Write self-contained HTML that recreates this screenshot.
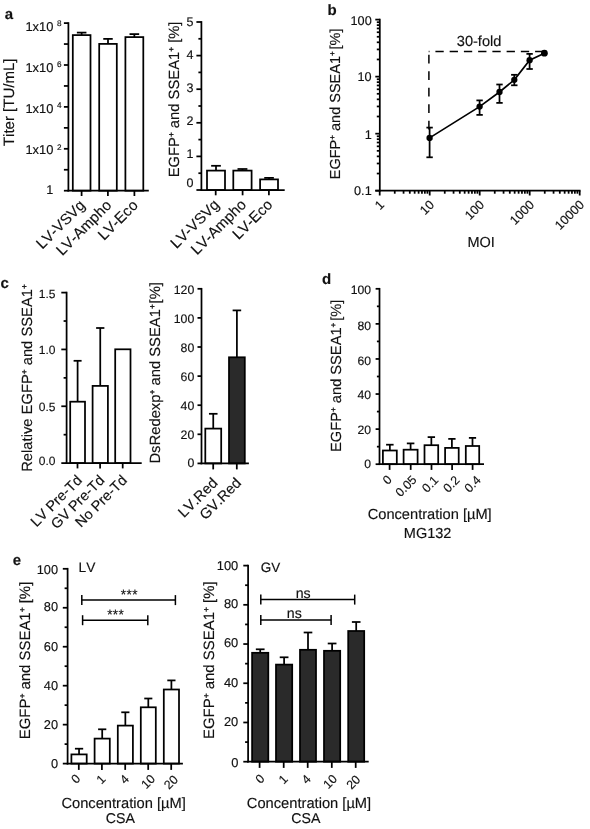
<!DOCTYPE html>
<html><head><meta charset="utf-8"><title>Figure</title>
<style>
html,body{margin:0;padding:0;background:#fff;}
svg{display:block;font-family:"Liberation Sans",sans-serif;font-kerning:none;filter:grayscale(1);}
svg text{fill:#111;stroke:#111;stroke-width:0.15px;text-rendering:geometricPrecision;}
</style></head><body>
<svg width="590" height="829" viewBox="0 0 590 829">
<rect x="0" y="0" width="590" height="829" fill="#fff" stroke="none"/>
<text x="4.80" y="19.40" font-size="15.00" text-anchor="start" font-weight="bold" >a</text>
<line x1="68.40" y1="22.23" x2="68.40" y2="191.57" stroke="#000" stroke-width="1.75" />
<line x1="63.90" y1="23.10" x2="68.40" y2="23.10" stroke="#000" stroke-width="1.75" />
<line x1="63.90" y1="44.05" x2="68.40" y2="44.05" stroke="#000" stroke-width="1.75" />
<line x1="63.90" y1="65.00" x2="68.40" y2="65.00" stroke="#000" stroke-width="1.75" />
<line x1="63.90" y1="85.95" x2="68.40" y2="85.95" stroke="#000" stroke-width="1.75" />
<line x1="63.90" y1="106.90" x2="68.40" y2="106.90" stroke="#000" stroke-width="1.75" />
<line x1="63.90" y1="127.85" x2="68.40" y2="127.85" stroke="#000" stroke-width="1.75" />
<line x1="63.90" y1="148.80" x2="68.40" y2="148.80" stroke="#000" stroke-width="1.75" />
<line x1="63.90" y1="169.75" x2="68.40" y2="169.75" stroke="#000" stroke-width="1.75" />
<line x1="63.90" y1="190.70" x2="68.40" y2="190.70" stroke="#000" stroke-width="1.75" />
<text x="53.40" y="31.10" font-size="12.90" text-anchor="end" >1x10</text>
<text x="56.90" y="25.80" font-size="8.20" text-anchor="start" >8</text>
<text x="53.40" y="72.17" font-size="12.90" text-anchor="end" >1x10</text>
<text x="56.90" y="67.10" font-size="8.20" text-anchor="start" >6</text>
<text x="53.40" y="113.24" font-size="12.90" text-anchor="end" >1x10</text>
<text x="56.90" y="108.40" font-size="8.20" text-anchor="start" >4</text>
<text x="53.40" y="154.31" font-size="12.90" text-anchor="end" >1x10</text>
<text x="56.90" y="149.70" font-size="8.20" text-anchor="start" >2</text>
<text x="53.20" y="193.85" font-size="12.70" text-anchor="end" >1</text>
<text transform="translate(14.20,102.30) rotate(-90)" font-size="15.00" text-anchor="middle" >Titer [TU/mL]</text>
<line x1="81.65" y1="32.60" x2="81.65" y2="35.10" stroke="#000" stroke-width="1.75" />
<line x1="76.87" y1="32.60" x2="86.43" y2="32.60" stroke="#000" stroke-width="1.75" />
<rect x="72.80" y="35.10" width="17.70" height="155.60" fill="#fff" stroke="#000" stroke-width="1.75"/>
<line x1="108.00" y1="38.90" x2="108.00" y2="43.90" stroke="#000" stroke-width="1.75" />
<line x1="103.25" y1="38.90" x2="112.75" y2="38.90" stroke="#000" stroke-width="1.75" />
<rect x="99.20" y="43.90" width="17.60" height="146.80" fill="#fff" stroke="#000" stroke-width="1.75"/>
<line x1="134.35" y1="34.10" x2="134.35" y2="37.10" stroke="#000" stroke-width="1.75" />
<line x1="129.52" y1="34.10" x2="139.18" y2="34.10" stroke="#000" stroke-width="1.75" />
<rect x="125.40" y="37.10" width="17.90" height="153.60" fill="#fff" stroke="#000" stroke-width="1.75"/>
<line x1="67.53" y1="190.70" x2="148.80" y2="190.70" stroke="#000" stroke-width="1.75" />
<line x1="81.60" y1="190.70" x2="81.60" y2="196.00" stroke="#000" stroke-width="1.75" />
<text transform="translate(86.00,206.20) rotate(-45)" font-size="15.00" text-anchor="end" >LV-VSVg</text>
<line x1="107.90" y1="190.70" x2="107.90" y2="196.00" stroke="#000" stroke-width="1.75" />
<text transform="translate(112.30,206.20) rotate(-45)" font-size="15.00" text-anchor="end" >LV-Ampho</text>
<line x1="134.40" y1="190.70" x2="134.40" y2="196.00" stroke="#000" stroke-width="1.75" />
<text transform="translate(138.80,206.20) rotate(-45)" font-size="15.00" text-anchor="end" >LV-Eco</text>
<line x1="201.40" y1="21.12" x2="201.40" y2="190.88" stroke="#000" stroke-width="1.75" />
<line x1="196.40" y1="22.00" x2="201.40" y2="22.00" stroke="#000" stroke-width="1.75" />
<line x1="196.40" y1="55.60" x2="201.40" y2="55.60" stroke="#000" stroke-width="1.75" />
<line x1="196.40" y1="89.20" x2="201.40" y2="89.20" stroke="#000" stroke-width="1.75" />
<line x1="196.40" y1="122.80" x2="201.40" y2="122.80" stroke="#000" stroke-width="1.75" />
<line x1="196.40" y1="156.40" x2="201.40" y2="156.40" stroke="#000" stroke-width="1.75" />
<line x1="196.40" y1="190.00" x2="201.40" y2="190.00" stroke="#000" stroke-width="1.75" />
<line x1="198.40" y1="38.80" x2="201.40" y2="38.80" stroke="#000" stroke-width="1.75" />
<line x1="198.40" y1="72.40" x2="201.40" y2="72.40" stroke="#000" stroke-width="1.75" />
<line x1="198.40" y1="106.00" x2="201.40" y2="106.00" stroke="#000" stroke-width="1.75" />
<line x1="198.40" y1="139.60" x2="201.40" y2="139.60" stroke="#000" stroke-width="1.75" />
<line x1="198.40" y1="173.20" x2="201.40" y2="173.20" stroke="#000" stroke-width="1.75" />
<text x="193.50" y="26.38" font-size="12.50" text-anchor="end" >5</text>
<text x="193.50" y="59.18" font-size="12.50" text-anchor="end" >4</text>
<text x="193.50" y="92.38" font-size="12.50" text-anchor="end" >3</text>
<text x="193.50" y="125.07" font-size="12.50" text-anchor="end" >2</text>
<text x="193.50" y="157.57" font-size="12.50" text-anchor="end" >1</text>
<text x="193.50" y="187.38" font-size="12.50" text-anchor="end" >0</text>
<text transform="translate(178.50,99.40) rotate(-90)" font-size="14.78" text-anchor="middle" >EGFP<tspan font-size="8.28" dy="-4.58" stroke-width="0.35">+</tspan><tspan dy="4.58"> and SSEA1<tspan font-size="8.28" dy="-4.58" stroke-width="0.35">+</tspan><tspan dy="4.58"> [%]</tspan></tspan></text>
<line x1="216.00" y1="165.80" x2="216.00" y2="170.60" stroke="#000" stroke-width="1.75" />
<line x1="211.14" y1="165.80" x2="220.86" y2="165.80" stroke="#000" stroke-width="1.75" />
<rect x="207.00" y="170.60" width="18.00" height="19.40" fill="#fff" stroke="#000" stroke-width="1.75"/>
<line x1="242.45" y1="169.00" x2="242.45" y2="170.60" stroke="#000" stroke-width="1.75" />
<line x1="237.51" y1="169.00" x2="247.39" y2="169.00" stroke="#000" stroke-width="1.75" />
<rect x="233.30" y="170.60" width="18.30" height="19.40" fill="#fff" stroke="#000" stroke-width="1.75"/>
<line x1="269.05" y1="177.90" x2="269.05" y2="179.40" stroke="#000" stroke-width="1.75" />
<line x1="264.22" y1="177.90" x2="273.88" y2="177.90" stroke="#000" stroke-width="1.75" />
<rect x="260.10" y="179.40" width="17.90" height="10.60" fill="#fff" stroke="#000" stroke-width="1.75"/>
<line x1="200.53" y1="190.00" x2="284.70" y2="190.00" stroke="#000" stroke-width="1.75" />
<line x1="215.70" y1="190.00" x2="215.70" y2="195.30" stroke="#000" stroke-width="1.75" />
<text transform="translate(220.20,205.50) rotate(-45)" font-size="15.00" text-anchor="end" >LV-VSVg</text>
<line x1="242.60" y1="190.00" x2="242.60" y2="195.30" stroke="#000" stroke-width="1.75" />
<text transform="translate(247.10,205.50) rotate(-45)" font-size="15.00" text-anchor="end" >LV-Ampho</text>
<line x1="268.90" y1="190.00" x2="268.90" y2="195.30" stroke="#000" stroke-width="1.75" />
<text transform="translate(273.40,205.50) rotate(-45)" font-size="15.00" text-anchor="end" >LV-Eco</text>
<text x="327.60" y="15.00" font-size="15.00" text-anchor="start" font-weight="bold" >b</text>
<line x1="379.80" y1="18.73" x2="379.80" y2="191.57" stroke="#000" stroke-width="1.75" />
<line x1="375.30" y1="19.60" x2="379.80" y2="19.60" stroke="#000" stroke-width="1.75" />
<line x1="375.30" y1="76.63" x2="379.80" y2="76.63" stroke="#000" stroke-width="1.75" />
<line x1="375.30" y1="133.67" x2="379.80" y2="133.67" stroke="#000" stroke-width="1.75" />
<line x1="375.30" y1="190.70" x2="379.80" y2="190.70" stroke="#000" stroke-width="1.75" />
<line x1="376.80" y1="173.53" x2="379.80" y2="173.53" stroke="#000" stroke-width="1.75" />
<line x1="376.80" y1="163.49" x2="379.80" y2="163.49" stroke="#000" stroke-width="1.75" />
<line x1="376.80" y1="156.36" x2="379.80" y2="156.36" stroke="#000" stroke-width="1.75" />
<line x1="376.80" y1="150.84" x2="379.80" y2="150.84" stroke="#000" stroke-width="1.75" />
<line x1="376.80" y1="146.32" x2="379.80" y2="146.32" stroke="#000" stroke-width="1.75" />
<line x1="376.80" y1="142.50" x2="379.80" y2="142.50" stroke="#000" stroke-width="1.75" />
<line x1="376.80" y1="139.19" x2="379.80" y2="139.19" stroke="#000" stroke-width="1.75" />
<line x1="376.80" y1="136.28" x2="379.80" y2="136.28" stroke="#000" stroke-width="1.75" />
<line x1="376.80" y1="116.50" x2="379.80" y2="116.50" stroke="#000" stroke-width="1.75" />
<line x1="376.80" y1="106.45" x2="379.80" y2="106.45" stroke="#000" stroke-width="1.75" />
<line x1="376.80" y1="99.33" x2="379.80" y2="99.33" stroke="#000" stroke-width="1.75" />
<line x1="376.80" y1="93.80" x2="379.80" y2="93.80" stroke="#000" stroke-width="1.75" />
<line x1="376.80" y1="89.29" x2="379.80" y2="89.29" stroke="#000" stroke-width="1.75" />
<line x1="376.80" y1="85.47" x2="379.80" y2="85.47" stroke="#000" stroke-width="1.75" />
<line x1="376.80" y1="82.16" x2="379.80" y2="82.16" stroke="#000" stroke-width="1.75" />
<line x1="376.80" y1="79.24" x2="379.80" y2="79.24" stroke="#000" stroke-width="1.75" />
<line x1="376.80" y1="59.46" x2="379.80" y2="59.46" stroke="#000" stroke-width="1.75" />
<line x1="376.80" y1="49.42" x2="379.80" y2="49.42" stroke="#000" stroke-width="1.75" />
<line x1="376.80" y1="42.30" x2="379.80" y2="42.30" stroke="#000" stroke-width="1.75" />
<line x1="376.80" y1="36.77" x2="379.80" y2="36.77" stroke="#000" stroke-width="1.75" />
<line x1="376.80" y1="32.25" x2="379.80" y2="32.25" stroke="#000" stroke-width="1.75" />
<line x1="376.80" y1="28.43" x2="379.80" y2="28.43" stroke="#000" stroke-width="1.75" />
<line x1="376.80" y1="25.13" x2="379.80" y2="25.13" stroke="#000" stroke-width="1.75" />
<line x1="376.80" y1="22.21" x2="379.80" y2="22.21" stroke="#000" stroke-width="1.75" />
<text x="371.70" y="24.75" font-size="12.70" text-anchor="end" >100</text>
<text x="371.70" y="81.05" font-size="12.70" text-anchor="end" >10</text>
<text x="371.70" y="138.75" font-size="12.70" text-anchor="end" >1</text>
<text x="371.70" y="195.25" font-size="12.70" text-anchor="end" >0.1</text>
<text transform="translate(339.60,103.90) rotate(-90)" font-size="14.50" text-anchor="middle" >EGFP<tspan font-size="8.12" dy="-4.50" stroke-width="0.35">+</tspan><tspan dy="4.50"> and SSEA1<tspan font-size="8.12" dy="-4.50" stroke-width="0.35">+</tspan><tspan dy="4.50"><tspan dx="1.8">[%]</tspan></tspan></tspan></text>
<line x1="375.30" y1="190.70" x2="580.58" y2="190.70" stroke="#000" stroke-width="1.75" />
<line x1="379.70" y1="190.70" x2="379.70" y2="195.50" stroke="#000" stroke-width="1.75" />
<text transform="translate(385.00,205.60) rotate(-45)" font-size="12.70" text-anchor="end" >1</text>
<line x1="394.75" y1="190.70" x2="394.75" y2="193.70" stroke="#000" stroke-width="1.75" />
<line x1="403.56" y1="190.70" x2="403.56" y2="193.70" stroke="#000" stroke-width="1.75" />
<line x1="409.80" y1="190.70" x2="409.80" y2="193.70" stroke="#000" stroke-width="1.75" />
<line x1="414.65" y1="190.70" x2="414.65" y2="193.70" stroke="#000" stroke-width="1.75" />
<line x1="418.61" y1="190.70" x2="418.61" y2="193.70" stroke="#000" stroke-width="1.75" />
<line x1="421.95" y1="190.70" x2="421.95" y2="193.70" stroke="#000" stroke-width="1.75" />
<line x1="424.85" y1="190.70" x2="424.85" y2="193.70" stroke="#000" stroke-width="1.75" />
<line x1="427.41" y1="190.70" x2="427.41" y2="193.70" stroke="#000" stroke-width="1.75" />
<line x1="429.70" y1="190.70" x2="429.70" y2="195.50" stroke="#000" stroke-width="1.75" />
<text transform="translate(435.00,205.60) rotate(-45)" font-size="12.70" text-anchor="end" >10</text>
<line x1="444.75" y1="190.70" x2="444.75" y2="193.70" stroke="#000" stroke-width="1.75" />
<line x1="453.56" y1="190.70" x2="453.56" y2="193.70" stroke="#000" stroke-width="1.75" />
<line x1="459.80" y1="190.70" x2="459.80" y2="193.70" stroke="#000" stroke-width="1.75" />
<line x1="464.65" y1="190.70" x2="464.65" y2="193.70" stroke="#000" stroke-width="1.75" />
<line x1="468.61" y1="190.70" x2="468.61" y2="193.70" stroke="#000" stroke-width="1.75" />
<line x1="471.95" y1="190.70" x2="471.95" y2="193.70" stroke="#000" stroke-width="1.75" />
<line x1="474.85" y1="190.70" x2="474.85" y2="193.70" stroke="#000" stroke-width="1.75" />
<line x1="477.41" y1="190.70" x2="477.41" y2="193.70" stroke="#000" stroke-width="1.75" />
<line x1="479.70" y1="190.70" x2="479.70" y2="195.50" stroke="#000" stroke-width="1.75" />
<text transform="translate(485.00,205.60) rotate(-45)" font-size="12.70" text-anchor="end" >100</text>
<line x1="494.75" y1="190.70" x2="494.75" y2="193.70" stroke="#000" stroke-width="1.75" />
<line x1="503.56" y1="190.70" x2="503.56" y2="193.70" stroke="#000" stroke-width="1.75" />
<line x1="509.80" y1="190.70" x2="509.80" y2="193.70" stroke="#000" stroke-width="1.75" />
<line x1="514.65" y1="190.70" x2="514.65" y2="193.70" stroke="#000" stroke-width="1.75" />
<line x1="518.61" y1="190.70" x2="518.61" y2="193.70" stroke="#000" stroke-width="1.75" />
<line x1="521.95" y1="190.70" x2="521.95" y2="193.70" stroke="#000" stroke-width="1.75" />
<line x1="524.85" y1="190.70" x2="524.85" y2="193.70" stroke="#000" stroke-width="1.75" />
<line x1="527.41" y1="190.70" x2="527.41" y2="193.70" stroke="#000" stroke-width="1.75" />
<line x1="529.70" y1="190.70" x2="529.70" y2="195.50" stroke="#000" stroke-width="1.75" />
<text transform="translate(535.00,205.60) rotate(-45)" font-size="12.70" text-anchor="end" >1000</text>
<line x1="544.75" y1="190.70" x2="544.75" y2="193.70" stroke="#000" stroke-width="1.75" />
<line x1="553.56" y1="190.70" x2="553.56" y2="193.70" stroke="#000" stroke-width="1.75" />
<line x1="559.80" y1="190.70" x2="559.80" y2="193.70" stroke="#000" stroke-width="1.75" />
<line x1="564.65" y1="190.70" x2="564.65" y2="193.70" stroke="#000" stroke-width="1.75" />
<line x1="568.61" y1="190.70" x2="568.61" y2="193.70" stroke="#000" stroke-width="1.75" />
<line x1="571.95" y1="190.70" x2="571.95" y2="193.70" stroke="#000" stroke-width="1.75" />
<line x1="574.85" y1="190.70" x2="574.85" y2="193.70" stroke="#000" stroke-width="1.75" />
<line x1="577.41" y1="190.70" x2="577.41" y2="193.70" stroke="#000" stroke-width="1.75" />
<line x1="579.70" y1="190.70" x2="579.70" y2="195.50" stroke="#000" stroke-width="1.75" />
<text transform="translate(585.00,205.60) rotate(-45)" font-size="12.70" text-anchor="end" >10000</text>
<text x="481.20" y="247.20" font-size="14.50" text-anchor="middle" >MOI</text>
<polyline fill="none" stroke="#000" stroke-width="1.7" points="429.6,137.9 479.6,106.6 499.5,92 514.3,79.8 529.6,60.2 544.4,53.2"/>
<line x1="429.60" y1="127.60" x2="429.60" y2="157.30" stroke="#000" stroke-width="1.75" />
<line x1="426.40" y1="127.60" x2="432.80" y2="127.60" stroke="#000" stroke-width="1.75" />
<line x1="426.40" y1="157.30" x2="432.80" y2="157.30" stroke="#000" stroke-width="1.75" />
<circle cx="429.6" cy="137.9" r="3.15" fill="#000"/>
<line x1="479.60" y1="100.40" x2="479.60" y2="114.90" stroke="#000" stroke-width="1.75" />
<line x1="476.40" y1="100.40" x2="482.80" y2="100.40" stroke="#000" stroke-width="1.75" />
<line x1="476.40" y1="114.90" x2="482.80" y2="114.90" stroke="#000" stroke-width="1.75" />
<circle cx="479.6" cy="106.6" r="3.15" fill="#000"/>
<line x1="499.50" y1="84.50" x2="499.50" y2="102.90" stroke="#000" stroke-width="1.75" />
<line x1="496.30" y1="84.50" x2="502.70" y2="84.50" stroke="#000" stroke-width="1.75" />
<line x1="496.30" y1="102.90" x2="502.70" y2="102.90" stroke="#000" stroke-width="1.75" />
<circle cx="499.5" cy="92" r="3.15" fill="#000"/>
<line x1="514.30" y1="74.80" x2="514.30" y2="85.30" stroke="#000" stroke-width="1.75" />
<line x1="511.10" y1="74.80" x2="517.50" y2="74.80" stroke="#000" stroke-width="1.75" />
<line x1="511.10" y1="85.30" x2="517.50" y2="85.30" stroke="#000" stroke-width="1.75" />
<circle cx="514.3" cy="79.8" r="3.15" fill="#000"/>
<line x1="529.60" y1="53.90" x2="529.60" y2="69.00" stroke="#000" stroke-width="1.75" />
<line x1="526.40" y1="53.90" x2="532.80" y2="53.90" stroke="#000" stroke-width="1.75" />
<line x1="526.40" y1="69.00" x2="532.80" y2="69.00" stroke="#000" stroke-width="1.75" />
<circle cx="529.6" cy="60.2" r="3.15" fill="#000"/>
<circle cx="544.4" cy="53.2" r="3.4" fill="#000"/>
<line x1="543.40" y1="51.60" x2="428.70" y2="51.60" stroke="#000" stroke-width="1.5" stroke-dasharray="8.3 5.94"/>
<line x1="428.90" y1="129.40" x2="428.90" y2="51.60" stroke="#000" stroke-width="1.5" stroke-dasharray="8.6 7.9"/>
<text x="479.10" y="46.30" font-size="14.60" text-anchor="middle" >30-fold</text>
<text x="0.50" y="287.60" font-size="15.00" text-anchor="start" font-weight="bold" >c</text>
<line x1="66.60" y1="291.73" x2="66.60" y2="463.98" stroke="#000" stroke-width="1.75" />
<line x1="61.30" y1="292.60" x2="66.60" y2="292.60" stroke="#000" stroke-width="1.75" />
<line x1="61.30" y1="349.43" x2="66.60" y2="349.43" stroke="#000" stroke-width="1.75" />
<line x1="61.30" y1="406.27" x2="66.60" y2="406.27" stroke="#000" stroke-width="1.75" />
<line x1="61.30" y1="463.10" x2="66.60" y2="463.10" stroke="#000" stroke-width="1.75" />
<line x1="63.60" y1="321.02" x2="66.60" y2="321.02" stroke="#000" stroke-width="1.75" />
<line x1="63.60" y1="377.85" x2="66.60" y2="377.85" stroke="#000" stroke-width="1.75" />
<line x1="63.60" y1="434.68" x2="66.60" y2="434.68" stroke="#000" stroke-width="1.75" />
<text x="55.40" y="297.90" font-size="12.00" text-anchor="end" >1.5</text>
<text x="55.40" y="354.10" font-size="12.00" text-anchor="end" >1.0</text>
<text x="55.40" y="410.50" font-size="12.00" text-anchor="end" >0.5</text>
<text x="55.40" y="465.20" font-size="12.00" text-anchor="end" >0.0</text>
<text transform="translate(32.00,378.00) rotate(-90)" font-size="14.75" text-anchor="middle" >Relative EGFP<tspan font-size="8.26" dy="-4.57" stroke-width="0.35">+</tspan><tspan dy="4.57"> and SSEA1<tspan font-size="8.26" dy="-4.57" stroke-width="0.35">+</tspan><tspan dy="4.57"></tspan></tspan></text>
<line x1="77.60" y1="360.80" x2="77.60" y2="401.70" stroke="#000" stroke-width="1.75" />
<line x1="73.60" y1="360.80" x2="81.60" y2="360.80" stroke="#000" stroke-width="1.75" />
<rect x="70.20" y="401.70" width="14.80" height="61.40" fill="#fff" stroke="#000" stroke-width="1.75"/>
<line x1="100.25" y1="328.00" x2="100.25" y2="385.90" stroke="#000" stroke-width="1.75" />
<line x1="96.12" y1="328.00" x2="104.38" y2="328.00" stroke="#000" stroke-width="1.75" />
<rect x="92.60" y="385.90" width="15.30" height="77.20" fill="#fff" stroke="#000" stroke-width="1.75"/>
<rect x="115.20" y="349.30" width="15.30" height="113.80" fill="#fff" stroke="#000" stroke-width="1.75"/>
<line x1="65.72" y1="463.10" x2="141.70" y2="463.10" stroke="#000" stroke-width="1.75" />
<line x1="77.50" y1="463.10" x2="77.50" y2="468.40" stroke="#000" stroke-width="1.75" />
<text transform="translate(82.80,481.10) rotate(-45)" font-size="14.40" text-anchor="end" >LV Pre-Td</text>
<line x1="100.10" y1="463.10" x2="100.10" y2="468.40" stroke="#000" stroke-width="1.75" />
<text transform="translate(105.40,481.10) rotate(-45)" font-size="14.40" text-anchor="end" >GV Pre-Td</text>
<line x1="122.70" y1="463.10" x2="122.70" y2="468.40" stroke="#000" stroke-width="1.75" />
<text transform="translate(128.00,481.10) rotate(-45)" font-size="14.40" text-anchor="end" >No Pre-Td</text>
<line x1="201.50" y1="287.93" x2="201.50" y2="464.27" stroke="#000" stroke-width="1.75" />
<line x1="197.50" y1="288.80" x2="201.50" y2="288.80" stroke="#000" stroke-width="1.75" />
<line x1="197.50" y1="317.90" x2="201.50" y2="317.90" stroke="#000" stroke-width="1.75" />
<line x1="197.50" y1="347.00" x2="201.50" y2="347.00" stroke="#000" stroke-width="1.75" />
<line x1="197.50" y1="376.10" x2="201.50" y2="376.10" stroke="#000" stroke-width="1.75" />
<line x1="197.50" y1="405.20" x2="201.50" y2="405.20" stroke="#000" stroke-width="1.75" />
<line x1="197.50" y1="434.30" x2="201.50" y2="434.30" stroke="#000" stroke-width="1.75" />
<line x1="197.50" y1="463.40" x2="201.50" y2="463.40" stroke="#000" stroke-width="1.75" />
<text x="194.30" y="294.40" font-size="12.30" text-anchor="end" >120</text>
<text x="194.30" y="323.30" font-size="12.30" text-anchor="end" >100</text>
<text x="194.30" y="352.30" font-size="12.30" text-anchor="end" >80</text>
<text x="194.30" y="380.80" font-size="12.30" text-anchor="end" >60</text>
<text x="194.30" y="409.70" font-size="12.30" text-anchor="end" >40</text>
<text x="194.30" y="438.70" font-size="12.30" text-anchor="end" >20</text>
<text x="194.30" y="467.40" font-size="12.30" text-anchor="end" >0</text>
<text transform="translate(159.90,372.80) rotate(-90)" font-size="14.80" text-anchor="middle" >DsRedexp<tspan font-size="8.29" dy="-4.59" stroke-width="0.35">+</tspan><tspan dy="4.59"> and SSEA1<tspan font-size="8.29" dy="-4.59" stroke-width="0.35">+</tspan><tspan dy="4.59"><tspan dx="0.8">[%]</tspan></tspan></tspan></text>
<line x1="213.25" y1="413.80" x2="213.25" y2="428.60" stroke="#000" stroke-width="1.75" />
<line x1="208.96" y1="413.80" x2="217.54" y2="413.80" stroke="#000" stroke-width="1.75" />
<rect x="205.30" y="428.60" width="15.90" height="34.80" fill="#fff" stroke="#000" stroke-width="1.75"/>
<line x1="236.90" y1="310.40" x2="236.90" y2="357.30" stroke="#000" stroke-width="1.75" />
<line x1="232.63" y1="310.40" x2="241.17" y2="310.40" stroke="#000" stroke-width="1.75" />
<rect x="229.00" y="357.30" width="15.80" height="106.10" fill="#2a2a2a" stroke="#000" stroke-width="1.75"/>
<line x1="200.62" y1="463.40" x2="248.90" y2="463.40" stroke="#000" stroke-width="1.75" />
<line x1="213.20" y1="463.40" x2="213.20" y2="469.40" stroke="#000" stroke-width="1.75" />
<text transform="translate(218.50,483.70) rotate(-45)" font-size="14.60" text-anchor="end" >LV.Red</text>
<line x1="236.80" y1="463.40" x2="236.80" y2="469.40" stroke="#000" stroke-width="1.75" />
<text transform="translate(242.10,483.70) rotate(-45)" font-size="14.60" text-anchor="end" >GV.Red</text>
<text x="322.10" y="284.00" font-size="15.00" text-anchor="start" font-weight="bold" >d</text>
<line x1="379.50" y1="287.93" x2="379.50" y2="465.07" stroke="#000" stroke-width="1.75" />
<line x1="375.60" y1="288.80" x2="379.50" y2="288.80" stroke="#000" stroke-width="1.75" />
<line x1="375.60" y1="323.88" x2="379.50" y2="323.88" stroke="#000" stroke-width="1.75" />
<line x1="375.60" y1="358.96" x2="379.50" y2="358.96" stroke="#000" stroke-width="1.75" />
<line x1="375.60" y1="394.04" x2="379.50" y2="394.04" stroke="#000" stroke-width="1.75" />
<line x1="375.60" y1="429.12" x2="379.50" y2="429.12" stroke="#000" stroke-width="1.75" />
<line x1="375.60" y1="464.20" x2="379.50" y2="464.20" stroke="#000" stroke-width="1.75" />
<line x1="376.90" y1="306.34" x2="379.50" y2="306.34" stroke="#000" stroke-width="1.75" />
<line x1="376.90" y1="341.42" x2="379.50" y2="341.42" stroke="#000" stroke-width="1.75" />
<line x1="376.90" y1="376.50" x2="379.50" y2="376.50" stroke="#000" stroke-width="1.75" />
<line x1="376.90" y1="411.58" x2="379.50" y2="411.58" stroke="#000" stroke-width="1.75" />
<line x1="376.90" y1="446.66" x2="379.50" y2="446.66" stroke="#000" stroke-width="1.75" />
<text x="371.00" y="294.17" font-size="12.20" text-anchor="end" >100</text>
<text x="371.00" y="329.97" font-size="12.20" text-anchor="end" >80</text>
<text x="371.00" y="364.97" font-size="12.20" text-anchor="end" >60</text>
<text x="371.00" y="399.37" font-size="12.20" text-anchor="end" >40</text>
<text x="371.00" y="433.67" font-size="12.20" text-anchor="end" >20</text>
<text x="371.00" y="467.57" font-size="12.20" text-anchor="end" >0</text>
<text transform="translate(341.00,375.80) rotate(-90)" font-size="14.65" text-anchor="middle" >EGFP<tspan font-size="8.20" dy="-4.54" stroke-width="0.35">+</tspan><tspan dy="4.54"> and SSEA1<tspan font-size="8.20" dy="-4.54" stroke-width="0.35">+</tspan><tspan dy="4.54"><tspan dx="1.8">[%]</tspan></tspan></tspan></text>
<line x1="389.85" y1="444.70" x2="389.85" y2="450.50" stroke="#000" stroke-width="1.75" />
<line x1="386.10" y1="444.70" x2="393.60" y2="444.70" stroke="#000" stroke-width="1.75" />
<rect x="382.90" y="450.50" width="13.90" height="13.70" fill="#fff" stroke="#000" stroke-width="1.75"/>
<line x1="410.60" y1="443.40" x2="410.60" y2="449.70" stroke="#000" stroke-width="1.75" />
<line x1="406.82" y1="443.40" x2="414.38" y2="443.40" stroke="#000" stroke-width="1.75" />
<rect x="403.60" y="449.70" width="14.00" height="14.50" fill="#fff" stroke="#000" stroke-width="1.75"/>
<line x1="431.35" y1="437.10" x2="431.35" y2="445.20" stroke="#000" stroke-width="1.75" />
<line x1="427.65" y1="437.10" x2="435.05" y2="437.10" stroke="#000" stroke-width="1.75" />
<rect x="424.50" y="445.20" width="13.70" height="19.00" fill="#fff" stroke="#000" stroke-width="1.75"/>
<line x1="451.90" y1="438.90" x2="451.90" y2="447.90" stroke="#000" stroke-width="1.75" />
<line x1="448.23" y1="438.90" x2="455.57" y2="438.90" stroke="#000" stroke-width="1.75" />
<rect x="445.10" y="447.90" width="13.60" height="16.30" fill="#fff" stroke="#000" stroke-width="1.75"/>
<line x1="472.50" y1="437.90" x2="472.50" y2="446.00" stroke="#000" stroke-width="1.75" />
<line x1="468.88" y1="437.90" x2="476.12" y2="437.90" stroke="#000" stroke-width="1.75" />
<rect x="465.80" y="446.00" width="13.40" height="18.20" fill="#fff" stroke="#000" stroke-width="1.75"/>
<line x1="378.62" y1="464.20" x2="484.00" y2="464.20" stroke="#000" stroke-width="1.75" />
<line x1="389.60" y1="464.20" x2="389.60" y2="469.90" stroke="#000" stroke-width="1.75" />
<line x1="410.70" y1="464.20" x2="410.70" y2="469.90" stroke="#000" stroke-width="1.75" />
<line x1="431.50" y1="464.20" x2="431.50" y2="469.90" stroke="#000" stroke-width="1.75" />
<line x1="452.10" y1="464.20" x2="452.10" y2="469.90" stroke="#000" stroke-width="1.75" />
<line x1="472.60" y1="464.20" x2="472.60" y2="469.90" stroke="#000" stroke-width="1.75" />
<text transform="translate(387.10,479.60) rotate(-45)" y="4.44" font-size="12.40" text-anchor="middle">0</text>
<text transform="translate(405.80,485.90) rotate(-45)" y="4.44" font-size="12.40" text-anchor="middle">0.05</text>
<text transform="translate(430.00,483.90) rotate(-45)" y="4.44" font-size="12.40" text-anchor="middle">0.1</text>
<text transform="translate(451.10,483.90) rotate(-45)" y="4.44" font-size="12.40" text-anchor="middle">0.2</text>
<text transform="translate(472.40,483.90) rotate(-45)" y="4.44" font-size="12.40" text-anchor="middle">0.4</text>
<text x="429.70" y="519.10" font-size="14.65" text-anchor="middle" >Concentration [µM]</text>
<text x="427.60" y="538.10" font-size="14.50" text-anchor="middle" >MG132</text>
<text x="12.80" y="564.50" font-size="15.00" text-anchor="start" font-weight="bold" >e</text>
<line x1="67.60" y1="567.92" x2="67.60" y2="764.48" stroke="#000" stroke-width="1.75" />
<line x1="62.80" y1="568.80" x2="67.60" y2="568.80" stroke="#000" stroke-width="1.75" />
<line x1="62.80" y1="607.76" x2="67.60" y2="607.76" stroke="#000" stroke-width="1.75" />
<line x1="62.80" y1="646.72" x2="67.60" y2="646.72" stroke="#000" stroke-width="1.75" />
<line x1="62.80" y1="685.68" x2="67.60" y2="685.68" stroke="#000" stroke-width="1.75" />
<line x1="62.80" y1="724.64" x2="67.60" y2="724.64" stroke="#000" stroke-width="1.75" />
<line x1="62.80" y1="763.60" x2="67.60" y2="763.60" stroke="#000" stroke-width="1.75" />
<line x1="64.60" y1="588.28" x2="67.60" y2="588.28" stroke="#000" stroke-width="1.75" />
<line x1="64.60" y1="627.24" x2="67.60" y2="627.24" stroke="#000" stroke-width="1.75" />
<line x1="64.60" y1="666.20" x2="67.60" y2="666.20" stroke="#000" stroke-width="1.75" />
<line x1="64.60" y1="705.16" x2="67.60" y2="705.16" stroke="#000" stroke-width="1.75" />
<line x1="64.60" y1="744.12" x2="67.60" y2="744.12" stroke="#000" stroke-width="1.75" />
<text x="58.10" y="573.68" font-size="12.80" text-anchor="end" >100</text>
<text x="58.10" y="611.48" font-size="12.80" text-anchor="end" >80</text>
<text x="58.10" y="650.88" font-size="12.80" text-anchor="end" >60</text>
<text x="58.10" y="689.78" font-size="12.80" text-anchor="end" >40</text>
<text x="58.10" y="728.68" font-size="12.80" text-anchor="end" >20</text>
<text x="58.10" y="767.88" font-size="12.80" text-anchor="end" >0</text>
<text transform="translate(29.90,660.50) rotate(-90)" font-size="14.95" text-anchor="middle" >EGFP<tspan font-size="8.37" dy="-4.63" stroke-width="0.35">+</tspan><tspan dy="4.63"> and SSEA1<tspan font-size="8.37" dy="-4.63" stroke-width="0.35">+</tspan><tspan dy="4.63"> [%]</tspan></tspan></text>
<line x1="79.05" y1="748.70" x2="79.05" y2="754.40" stroke="#000" stroke-width="1.75" />
<line x1="74.92" y1="748.70" x2="83.18" y2="748.70" stroke="#000" stroke-width="1.75" />
<rect x="71.40" y="754.40" width="15.30" height="9.20" fill="#fff" stroke="#000" stroke-width="1.75"/>
<line x1="102.20" y1="729.30" x2="102.20" y2="738.60" stroke="#000" stroke-width="1.75" />
<line x1="98.10" y1="729.30" x2="106.30" y2="729.30" stroke="#000" stroke-width="1.75" />
<rect x="94.60" y="738.60" width="15.20" height="25.00" fill="#fff" stroke="#000" stroke-width="1.75"/>
<line x1="125.35" y1="712.30" x2="125.35" y2="725.60" stroke="#000" stroke-width="1.75" />
<line x1="121.27" y1="712.30" x2="129.43" y2="712.30" stroke="#000" stroke-width="1.75" />
<rect x="117.80" y="725.60" width="15.10" height="38.00" fill="#fff" stroke="#000" stroke-width="1.75"/>
<line x1="148.30" y1="698.50" x2="148.30" y2="707.30" stroke="#000" stroke-width="1.75" />
<line x1="144.25" y1="698.50" x2="152.35" y2="698.50" stroke="#000" stroke-width="1.75" />
<rect x="140.80" y="707.30" width="15.00" height="56.30" fill="#fff" stroke="#000" stroke-width="1.75"/>
<line x1="171.40" y1="680.40" x2="171.40" y2="689.50" stroke="#000" stroke-width="1.75" />
<line x1="167.30" y1="680.40" x2="175.50" y2="680.40" stroke="#000" stroke-width="1.75" />
<rect x="163.80" y="689.50" width="15.20" height="74.10" fill="#fff" stroke="#000" stroke-width="1.75"/>
<line x1="66.72" y1="763.60" x2="182.90" y2="763.60" stroke="#000" stroke-width="1.75" />
<line x1="78.80" y1="763.60" x2="78.80" y2="769.90" stroke="#000" stroke-width="1.75" />
<line x1="101.90" y1="763.60" x2="101.90" y2="769.90" stroke="#000" stroke-width="1.75" />
<line x1="125.20" y1="763.60" x2="125.20" y2="769.90" stroke="#000" stroke-width="1.75" />
<line x1="148.20" y1="763.60" x2="148.20" y2="769.90" stroke="#000" stroke-width="1.75" />
<line x1="171.20" y1="763.60" x2="171.20" y2="769.90" stroke="#000" stroke-width="1.75" />
<text transform="translate(75.60,778.70) rotate(-45)" y="4.44" font-size="12.40" text-anchor="middle">0</text>
<text transform="translate(100.70,779.10) rotate(-45)" y="4.44" font-size="12.40" text-anchor="middle">1</text>
<text transform="translate(124.20,779.10) rotate(-45)" y="4.44" font-size="12.40" text-anchor="middle">4</text>
<text transform="translate(147.90,781.40) rotate(-45)" y="4.44" font-size="12.40" text-anchor="middle">10</text>
<text transform="translate(170.80,782.00) rotate(-45)" y="4.44" font-size="12.40" text-anchor="middle">20</text>
<text x="123.60" y="808.10" font-size="14.70" text-anchor="middle" >Concentration [µM]</text>
<text x="120.40" y="823.10" font-size="14.20" text-anchor="middle" >CSA</text>
<text x="78.60" y="572.40" font-size="13.80" text-anchor="start" >LV</text>
<line x1="81.80" y1="600.10" x2="175.40" y2="600.10" stroke="#000" stroke-width="1.5" />
<line x1="81.80" y1="595.10" x2="81.80" y2="605.10" stroke="#000" stroke-width="1.5" />
<line x1="175.40" y1="595.10" x2="175.40" y2="605.10" stroke="#000" stroke-width="1.5" />
<text x="129.30" y="598.50" font-size="13.60" text-anchor="middle" letter-spacing="0.4">***</text>
<line x1="82.60" y1="620.20" x2="147.80" y2="620.20" stroke="#000" stroke-width="1.5" />
<line x1="82.60" y1="615.20" x2="82.60" y2="625.20" stroke="#000" stroke-width="1.5" />
<line x1="147.80" y1="615.20" x2="147.80" y2="625.20" stroke="#000" stroke-width="1.5" />
<text x="115.70" y="619.00" font-size="13.60" text-anchor="middle" letter-spacing="0.4">***</text>
<line x1="248.10" y1="564.73" x2="248.10" y2="762.58" stroke="#000" stroke-width="1.75" />
<line x1="243.30" y1="565.60" x2="248.10" y2="565.60" stroke="#000" stroke-width="1.75" />
<line x1="243.30" y1="604.82" x2="248.10" y2="604.82" stroke="#000" stroke-width="1.75" />
<line x1="243.30" y1="644.04" x2="248.10" y2="644.04" stroke="#000" stroke-width="1.75" />
<line x1="243.30" y1="683.26" x2="248.10" y2="683.26" stroke="#000" stroke-width="1.75" />
<line x1="243.30" y1="722.48" x2="248.10" y2="722.48" stroke="#000" stroke-width="1.75" />
<line x1="243.30" y1="761.70" x2="248.10" y2="761.70" stroke="#000" stroke-width="1.75" />
<line x1="245.10" y1="585.21" x2="248.10" y2="585.21" stroke="#000" stroke-width="1.75" />
<line x1="245.10" y1="624.43" x2="248.10" y2="624.43" stroke="#000" stroke-width="1.75" />
<line x1="245.10" y1="663.65" x2="248.10" y2="663.65" stroke="#000" stroke-width="1.75" />
<line x1="245.10" y1="702.87" x2="248.10" y2="702.87" stroke="#000" stroke-width="1.75" />
<line x1="245.10" y1="742.09" x2="248.10" y2="742.09" stroke="#000" stroke-width="1.75" />
<text x="238.30" y="569.82" font-size="12.90" text-anchor="end" >100</text>
<text x="238.30" y="608.02" font-size="12.90" text-anchor="end" >80</text>
<text x="238.30" y="647.42" font-size="12.90" text-anchor="end" >60</text>
<text x="238.30" y="686.62" font-size="12.90" text-anchor="end" >40</text>
<text x="238.30" y="726.02" font-size="12.90" text-anchor="end" >20</text>
<text x="238.30" y="766.62" font-size="12.90" text-anchor="end" >0</text>
<text transform="translate(213.70,660.20) rotate(-90)" font-size="14.95" text-anchor="middle" >EGFP<tspan font-size="8.37" dy="-4.63" stroke-width="0.35">+</tspan><tspan dy="4.63"> and SSEA1<tspan font-size="8.37" dy="-4.63" stroke-width="0.35">+</tspan><tspan dy="4.63"> [%]</tspan></tspan></text>
<line x1="260.20" y1="649.30" x2="260.20" y2="652.80" stroke="#000" stroke-width="1.75" />
<line x1="255.83" y1="649.30" x2="264.57" y2="649.30" stroke="#000" stroke-width="1.75" />
<rect x="252.10" y="652.80" width="16.20" height="108.90" fill="#2a2a2a" stroke="#000" stroke-width="1.75"/>
<line x1="284.10" y1="657.30" x2="284.10" y2="664.60" stroke="#000" stroke-width="1.75" />
<line x1="279.73" y1="657.30" x2="288.47" y2="657.30" stroke="#000" stroke-width="1.75" />
<rect x="276.00" y="664.60" width="16.20" height="97.10" fill="#2a2a2a" stroke="#000" stroke-width="1.75"/>
<line x1="308.00" y1="632.50" x2="308.00" y2="649.80" stroke="#000" stroke-width="1.75" />
<line x1="303.68" y1="632.50" x2="312.32" y2="632.50" stroke="#000" stroke-width="1.75" />
<rect x="300.00" y="649.80" width="16.00" height="111.90" fill="#2a2a2a" stroke="#000" stroke-width="1.75"/>
<line x1="332.10" y1="643.50" x2="332.10" y2="650.80" stroke="#000" stroke-width="1.75" />
<line x1="327.73" y1="643.50" x2="336.47" y2="643.50" stroke="#000" stroke-width="1.75" />
<rect x="324.00" y="650.80" width="16.20" height="110.90" fill="#2a2a2a" stroke="#000" stroke-width="1.75"/>
<line x1="356.20" y1="622.00" x2="356.20" y2="631.00" stroke="#000" stroke-width="1.75" />
<line x1="351.88" y1="622.00" x2="360.52" y2="622.00" stroke="#000" stroke-width="1.75" />
<rect x="348.20" y="631.00" width="16.00" height="130.70" fill="#2a2a2a" stroke="#000" stroke-width="1.75"/>
<line x1="247.22" y1="761.70" x2="368.70" y2="761.70" stroke="#000" stroke-width="1.75" />
<line x1="259.60" y1="761.70" x2="259.60" y2="767.90" stroke="#000" stroke-width="1.75" />
<line x1="283.70" y1="761.70" x2="283.70" y2="767.90" stroke="#000" stroke-width="1.75" />
<line x1="307.70" y1="761.70" x2="307.70" y2="767.90" stroke="#000" stroke-width="1.75" />
<line x1="331.80" y1="761.70" x2="331.80" y2="767.90" stroke="#000" stroke-width="1.75" />
<line x1="355.70" y1="761.70" x2="355.70" y2="767.90" stroke="#000" stroke-width="1.75" />
<text transform="translate(259.90,778.70) rotate(-45)" y="4.44" font-size="12.40" text-anchor="middle">0</text>
<text transform="translate(283.10,779.10) rotate(-45)" y="4.44" font-size="12.40" text-anchor="middle">1</text>
<text transform="translate(306.00,779.10) rotate(-45)" y="4.44" font-size="12.40" text-anchor="middle">4</text>
<text transform="translate(329.90,781.40) rotate(-45)" y="4.44" font-size="12.40" text-anchor="middle">10</text>
<text transform="translate(353.20,782.00) rotate(-45)" y="4.44" font-size="12.40" text-anchor="middle">20</text>
<text x="309.00" y="808.10" font-size="14.70" text-anchor="middle" >Concentration [µM]</text>
<text x="305.90" y="823.10" font-size="14.20" text-anchor="middle" >CSA</text>
<text x="260.80" y="572.20" font-size="13.50" text-anchor="start" >GV</text>
<line x1="260.80" y1="599.60" x2="354.70" y2="599.60" stroke="#000" stroke-width="1.5" />
<line x1="260.80" y1="594.60" x2="260.80" y2="604.60" stroke="#000" stroke-width="1.5" />
<line x1="354.70" y1="594.60" x2="354.70" y2="604.60" stroke="#000" stroke-width="1.5" />
<text x="303.20" y="597.70" font-size="14.20" text-anchor="middle" >ns</text>
<line x1="260.80" y1="620.00" x2="331.10" y2="620.00" stroke="#000" stroke-width="1.5" />
<line x1="260.80" y1="615.00" x2="260.80" y2="625.00" stroke="#000" stroke-width="1.5" />
<line x1="331.10" y1="615.00" x2="331.10" y2="625.00" stroke="#000" stroke-width="1.5" />
<text x="294.30" y="617.50" font-size="14.20" text-anchor="middle" >ns</text>
</svg>
</body></html>
